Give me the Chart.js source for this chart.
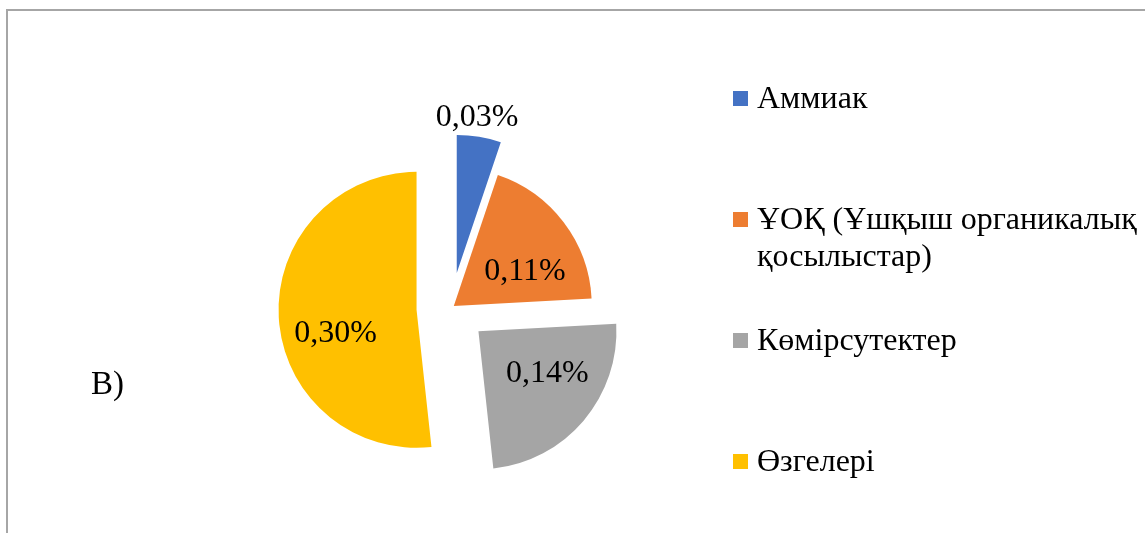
<!DOCTYPE html>
<html><head><meta charset="utf-8">
<script src="https://cdn.jsdelivr.net/npm/chart.js@4.4.1/dist/chart.umd.min.js"></script>
<style>
html,body{margin:0;padding:0;background:#fff;overflow:hidden;}
#wrap{position:relative;width:1145px;height:533px;overflow:hidden;font-family:"Liberation Serif","Times New Roman",serif;color:#000;background:#fff;}
#frame{position:absolute;left:6px;top:9px;width:1400px;height:800px;border-top:2px solid #a6a6a6;border-left:2px solid #a6a6a6;}
#c{position:absolute;left:0;top:0;}
#legend{position:absolute;left:733px;top:79px;}
.item{position:relative;height:121px;padding-left:24px;font-size:32px;line-height:37px;white-space:nowrap;}
.sw{position:absolute;left:0;top:12px;width:15px;height:15px;}
#tag{position:absolute;left:91px;top:367px;font-size:33px;line-height:33px;}
</style>
</head>
<body>
<div id="wrap">
  <div id="frame"></div>
  <canvas id="c" width="1145" height="533"></canvas>
  <div id="legend"></div>
  <div id="tag">B)</div>
</div>
<script>
// ---- data ----
const categories = ['Аммиак', ['ҰОҚ (Ұшқыш органикалық', 'қосылыстар)'], 'Көмірсутектер', 'Өзгелері'];
const values = [0.03, 0.11, 0.14, 0.30];           // percent
const colors = ['#4472C4', '#ED7D31', '#A5A5A5', '#FFC000'];
const explode = [35.5, 3.5, 36, 34.5];              // slice pull-out (px)
// label placement relative to each slice: angle tweak (deg) and radius fraction
const labelAngleAdj = [-1.9, 11.5, -8.7, -12.9];
const labelRadiusFrac = [1.136, 0.572, 0.587, 0.611];

const fmt = v => v.toFixed(2).replace('.', ',') + '%';

// exploded slices without radius growth
const Arc = Chart.ArcElement || Chart.elements.ArcElement;
const baseDraw = Arc.prototype.draw;
Arc.prototype.draw = function (ctx) {
  const d = this.$explode || 0;
  const mid = (this.startAngle + this.endAngle) / 2;
  ctx.save();
  ctx.translate(Math.cos(mid) * d, Math.sin(mid) * d);
  baseDraw.call(this, ctx);
  ctx.restore();
};

const explodePlugin = {
  id: 'explodeSlices',
  beforeDatasetsDraw(chart) {
    chart.data.datasets.forEach((ds, di) => {
      chart.getDatasetMeta(di).data.forEach((el, i) => { el.$explode = (ds.explode || [])[i] || 0; });
    });
  }
};

const labelPlugin = {
  id: 'sliceLabels',
  afterDatasetsDraw(chart) {
    const ctx = chart.ctx;
    const ds = chart.data.datasets[0];
    const meta = chart.getDatasetMeta(0);
    ctx.save();
    ctx.font = '32px "Liberation Serif", "Times New Roman", serif';
    ctx.fillStyle = '#000';
    ctx.textAlign = 'center';
    ctx.textBaseline = 'middle';
    meta.data.forEach((el, i) => {
      const mid = (el.startAngle + el.endAngle) / 2;
      const ex = ds.explode[i] || 0;
      const ax = el.x + Math.cos(mid) * ex;
      const ay = el.y + Math.sin(mid) * ex;
      const a = mid + labelAngleAdj[i] * Math.PI / 180;
      const r = labelRadiusFrac[i] * el.outerRadius;
      ctx.fillText(fmt(ds.data[i]), ax + Math.cos(a) * r, ay + Math.sin(a) * r);
    });
    ctx.restore();
  }
};

new Chart(document.getElementById('c'), {
  type: 'pie',
  data: {
    labels: categories,
    datasets: [{
      data: values,
      backgroundColor: colors,
      borderWidth: 0,
      explode: explode,
      radius: 138,
      clip: false
    }]
  },
  options: {
    responsive: false,
    devicePixelRatio: 1,
    animation: false,
    radius: 138,
    layout: { padding: { left: 0, right: 243, top: 83, bottom: 0 } },
    plugins: { legend: { display: false }, tooltip: { enabled: false } }
  },
  plugins: [explodePlugin, labelPlugin]
});

// legend
const leg = document.getElementById('legend');
categories.forEach((c, i) => {
  const item = document.createElement('div');
  item.className = 'item';
  const sw = document.createElement('span');
  sw.className = 'sw';
  sw.style.background = colors[i];
  item.appendChild(sw);
  const txt = document.createElement('span');
  txt.innerHTML = (Array.isArray(c) ? c : [c]).join('<br>');
  item.appendChild(txt);
  leg.appendChild(item);
});
</script>
</body></html>
